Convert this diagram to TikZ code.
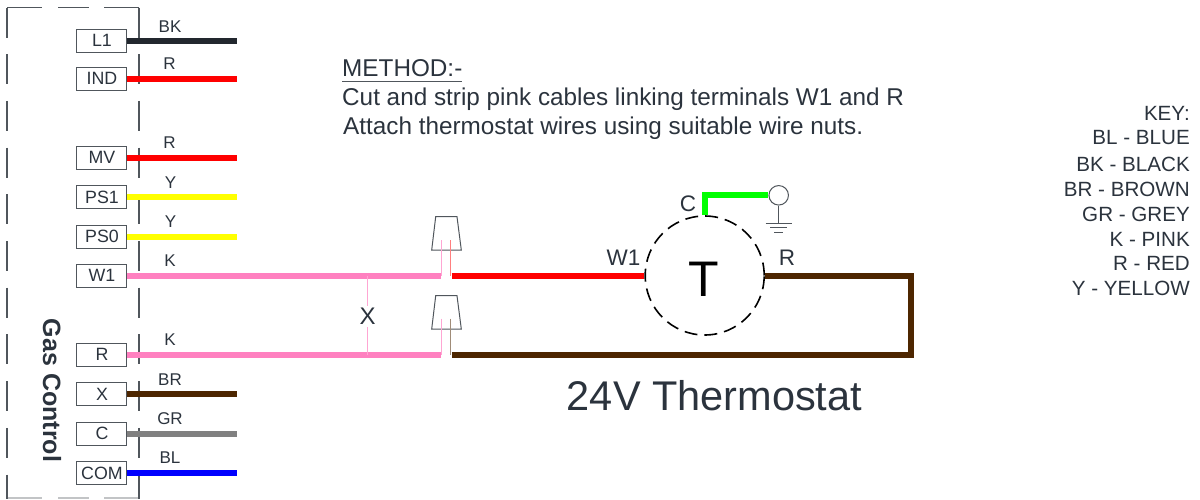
\documentclass[tikz,border=0pt]{standalone}
\usepackage{fontspec}
\setmainfont{Liberation Sans}
\definecolor{ink}{HTML}{2B333D}
\definecolor{edge}{HTML}{50565C}
\definecolor{wirebk}{HTML}{22272E}
\definecolor{wirer}{HTML}{FF0000}
\definecolor{wirek}{HTML}{FF80C0}
\definecolor{wirey}{HTML}{FFFF00}
\definecolor{wirebr}{HTML}{4D2600}
\definecolor{wiregr}{HTML}{808080}
\definecolor{wirebl}{HTML}{0000FF}
\definecolor{wireg}{HTML}{00FF00}
\definecolor{palek}{HTML}{FFA6D3}
\definecolor{paler}{HTML}{FF7F7F}
\definecolor{palebr}{HTML}{A08C78}
\begin{document}
\begin{tikzpicture}[x=1pt,y=-1pt,
  terminal/.style={draw=edge,line width=1pt,minimum width=50pt,minimum height=23pt,inner sep=0pt,text=ink,font=\fontsize{17.8}{20}\selectfont,execute at begin node={\hspace{2pt}}},
  wire/.style={line width=6pt,miter limit=10},
  thinwire/.style={line width=1.2pt},
  colorlabel/.style={text=ink,inner sep=0pt,font=\fontsize{17}{19}\selectfont},
  thermlabel/.style={text=ink,inner sep=0pt,font=\fontsize{22.5}{24}\selectfont},
  keyline/.style={text=ink,inner sep=0pt,anchor=east,font=\fontsize{20.6}{24}\selectfont},
  notetext/.style={text=ink,inner sep=0pt,anchor=base west,font=\fontsize{24.3}{28}\selectfont},
  outline/.style={draw=edge,line width=1.1pt,dash pattern=on 30pt off 16.7pt},
  outlinetop/.style={draw=edge,line width=1.1pt,dash pattern=on 35pt off 16pt on 31pt off 15pt}]
  \useasboundingbox (0,0) rectangle (1200,499);

  \draw[outlinetop] (7,7.5) -- (139,7.5);
  \draw[outlinetop,draw=edge!35] (7,498) -- (139,498);
  \draw[outline] (7,7.5) -- (7,499);
  \draw[outline] (139,7.5) -- (139,499);

  \node[terminal] (L1) at (101,40.5) {L1};
  \node[terminal] (IND) at (101,78.5) {IND};
  \node[terminal] (MV) at (101,157.5) {MV};
  \node[terminal] (PS1) at (101,197) {PS1};
  \node[terminal] (PS0) at (101,236.5) {PS0};
  \node[terminal] (W1) at (101,275.5) {W1};
  \node[terminal] (R) at (101,354.5) {R};
  \node[terminal] (X) at (101,394) {X};
  \node[terminal] (C) at (101,433.5) {C};
  \node[terminal] (COM) at (101,473) {COM};

  \coordinate (L1end) at (237,40.5);
  \coordinate (INDend) at (237,78.5);
  \coordinate (MVend) at (237,157.5);
  \coordinate (PS1end) at (237,197);
  \coordinate (PS0end) at (237,236.5);
  \coordinate (Xend) at (237,394);
  \coordinate (Cend) at (237,433.5);
  \coordinate (COMend) at (237,473);
  \coordinate (W1end) at (441,275.5);
  \coordinate (Rend) at (441,354.5);

  \draw[wire,wirebk] (L1.east) -- (L1end);
  \draw[wire,wirer] (IND.east) -- (INDend);
  \draw[wire,wirer] (MV.east) -- (MVend);
  \draw[wire,wirey] (PS1.east) -- (PS1end);
  \draw[wire,wirey] (PS0.east) -- (PS0end);
  \draw[wire,wirek] (W1.east) -- (W1end);
  \draw[wire,wirek] (R.east) -- (Rend);
  \draw[wire,wirebr] (X.east) -- (Xend);
  \draw[wire,wiregr] (C.east) -- (Cend);
  \draw[wire,wirebl] (COM.east) -- (COMend);

  \node[colorlabel] (lbBK) at (170,26.5) {BK};
  \node[colorlabel] (lbIND) at (169.5,64) {R};
  \node[colorlabel] (lbMV) at (169.5,143) {R};
  \node[colorlabel] (lbPS1) at (170.5,182.5) {Y};
  \node[colorlabel] (lbPS0) at (170.5,222) {Y};
  \node[colorlabel] (lbW1) at (170,261) {K};
  \node[colorlabel] (lbR) at (170,340) {K};
  \node[colorlabel] (lbX) at (170,380) {BR};
  \node[colorlabel] (lbC) at (170,419) {GR};
  \node[colorlabel] (lbCOM) at (170,458) {BL};

  \node[rotate=-90,text=ink,inner sep=0pt,font=\fontsize{25}{27}\selectfont\bfseries] (gas) at (52,390.5) {Gas Control};

  \node[notetext] (method) at (342,76) {METHOD:-};
  \draw[edge,line width=1pt] (342,81.5) -- (462,81.5);
  \node[notetext] (cut) at (342,105) {Cut and strip pink cables linking terminals W1 and R};
  \node[notetext] (attach) at (343,134.5) {Attach thermostat wires using suitable wire nuts.};

  \node[keyline] (key0) at (1190,113) {KEY:};
  \node[keyline] (key1) at (1190,138) {BL - BLUE};
  \node[keyline] (key2) at (1190,164) {BK - BLACK};
  \node[keyline] (key3) at (1190,189) {BR - BROWN};
  \node[keyline] (key4) at (1190,214) {GR - GREY};
  \node[keyline] (key5) at (1190,239) {K - PINK};
  \node[keyline] (key6) at (1190,263) {R - RED};
  \node[keyline] (key7) at (1190,288) {Y - YELLOW};

  \draw[edge,line width=1pt] (435.7,216.7) -- (457,216.7) -- (461.3,250) -- (431.7,250) -- cycle;
  \draw[edge,line width=1pt] (435.7,295.7) -- (457,295.7) -- (461.3,329) -- (431.7,329) -- cycle;

  \coordinate (nutWk) at (441.7,240);
  \coordinate (nutWr) at (450.7,240);
  \coordinate (nutRk) at (441.7,318.5);
  \coordinate (nutRb) at (450.7,318.5);
  \coordinate (W1lead) at (441.7,275.5);
  \coordinate (Rlead) at (441.7,354.5);
  \coordinate (redstart) at (451.5,275.5);
  \coordinate (brownstart) at (451.5,354.5);

  \draw[thinwire,palek] (nutWk) -- (W1lead);
  \draw[thinwire,paler] (nutWr) -- (nutWr |- redstart);
  \draw[thinwire,palek] (nutRk) -- (Rlead);
  \draw[thinwire,palebr] (nutRb) -- (nutRb |- brownstart);

  \node[circle,draw=black,line width=1.6pt,dash pattern=on 13pt off 7pt,minimum size=119pt,inner sep=0pt] (therm) at (704.7,275.5) {};
  \node[inner sep=0pt,font=\fontsize{50}{52}\selectfont] (thermT) at (704,279) {T};
  \draw[wire,wirer] (redstart) -- (therm.west);
  \draw[wire,wirebr,line join=miter] (therm.east) -- (910.5,275.5) -- (910.5,354.5) -- (brownstart);

  \node[circle,draw=edge,line width=1pt,minimum size=19.5pt,inner sep=0pt] (gnd) at (778.7,195.3) {};
  \draw[wire,wireg,line join=miter] (therm.north) -- (therm.north |- gnd.west) -- (gnd.west);
  \coordinate (earth) at (778.7,223);
  \draw[edge,line width=1pt] (gnd.south) -- (earth);
  \draw[edge,line width=1pt] (765.7,223) -- (792,223);
  \draw[edge,line width=1pt] (770,227.7) -- (787,227.7);
  \draw[edge,line width=1pt] (774,232) -- (783,232);

  \node[thermlabel] (lbC2) at (688,204) {C};
  \node[thermlabel] (lbW2) at (623.5,258) {W1};
  \node[thermlabel] (lbR2) at (787,257.5) {R};

  \coordinate (xtop) at (367.5,275.5);
  \coordinate (xbot) at (367.5,354.5);
  \node[thermlabel,fill=white,inner ysep=2pt,font=\fontsize{24}{26}\selectfont] (xlabel) at (367.5,316.5) {X};
  \draw[thinwire,palek] (xtop) -- (xlabel);
  \draw[thinwire,palek] (xlabel) -- (xbot);

  \node[text=ink,inner sep=0pt,font=\fontsize{41.5}{46}\selectfont] (title) at (714.5,395.5) {24V Thermostat};
\end{tikzpicture}
\end{document}
